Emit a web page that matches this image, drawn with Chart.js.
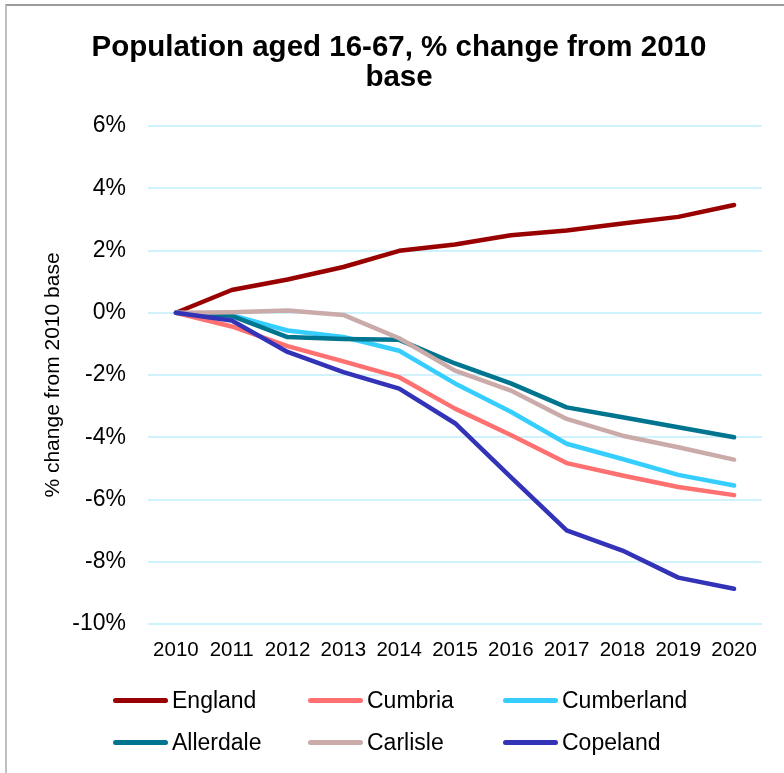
<!DOCTYPE html>
<html>
<head>
<meta charset="utf-8">
<script src="https://cdn.jsdelivr.net/npm/chart.js@4/dist/chart.umd.min.js"></script>
<style>
  html, body { margin: 0; padding: 0; background: #fff; }
  #wrap { position: relative; width: 784px; height: 773px; overflow: hidden; }
  #frame {
    position: absolute; left: 5px; top: 4px; width: 900px; height: 900px;
    border-left: 2px solid #c0c0c0; border-top: 2px solid #9a9a9a;
  }
  #chart { position: absolute; left: 0; top: 0; }
  #legend {
    position: absolute; left: 113px; top: 679px;
    display: grid; grid-template-columns: 195px 195px 195px; grid-auto-rows: 42px;
    font-family: "Liberation Sans", Arial, sans-serif; font-size: 23px; color: #000;
  }
  .item { display: flex; align-items: center; height: 42px; }
  .swatch { width: 55px; height: 5px; border-radius: 3px; margin-right: 4px; }
</style>
</head>
<body>
<div id="wrap">
  <div id="frame"></div>
  <canvas id="chart" width="784" height="773"></canvas>
  <div id="legend"></div>
</div>
<script>
// Working-age population (16-67), % change against 2010
const years = ['2010', '2011', '2012', '2013', '2014', '2015', '2016', '2017', '2018', '2019', '2020'];

const england    = [0, 0.73, 1.07, 1.47, 1.99, 2.19, 2.49, 2.64, 2.87, 3.08, 3.46];
const cumbria    = [0, -0.44, -1.07, -1.56, -2.07, -3.08, -3.93, -4.83, -5.23, -5.60, -5.86];
const cumberland = [0, -0.08, -0.57, -0.78, -1.22, -2.27, -3.18, -4.21, -4.70, -5.21, -5.55];
const allerdale  = [0, -0.10, -0.78, -0.84, -0.87, -1.63, -2.27, -3.04, -3.36, -3.68, -4.00];
const carlisle   = [0, 0.02, 0.07, -0.07, -0.82, -1.86, -2.50, -3.41, -3.95, -4.32, -4.72];
const copeland   = [0, -0.25, -1.26, -1.91, -2.44, -3.55, -5.28, -6.99, -7.64, -8.51, -8.87];

const seriesNames = ['England', 'Cumbria', 'Cumberland', 'Allerdale', 'Carlisle', 'Copeland'];
const seriesData = [england, cumbria, cumberland, allerdale, carlisle, copeland];
const seriesColors = ['#990000', '#FF7171', '#36CEFF', '#00758F', '#CBAAAA', '#3333B8'];

const FONT = '"Liberation Sans", Arial, sans-serif';

// later series sit on top of earlier ones
const datasets = seriesNames.map((name, i) => ({
    label: name,
    data: seriesData[i],
    borderColor: seriesColors[i],
    backgroundColor: seriesColors[i],
    borderWidth: 4.5,
    borderCapStyle: 'round',
    borderJoinStyle: 'round',
    pointRadius: 0,
    tension: 0,
    order: seriesNames.length - i
}));

const ctx = document.getElementById('chart').getContext('2d');
const chart = new Chart(ctx, {
    type: 'line',
    data: { labels: years, datasets: datasets },
    options: {
        responsive: false,
        animation: false,
        layout: { padding: { left: 36, right: 22, top: 0, bottom: 99 } },
        plugins: {
            legend: { display: false },
            tooltip: { enabled: false },
            title: {
                display: true,
                text: ['Population aged 16-67, % change from 2010', 'base'],
                color: '#000',
                font: { family: FONT, size: 29.5, weight: 'bold', lineHeight: '30px' },
                padding: { top: 33, bottom: 33 }
            }
        },
        scales: {
            x: {
                offset: true,
                grid: { display: false, drawTicks: false },
                border: { display: false },
                ticks: { color: '#000', padding: 14, maxRotation: 0, font: { family: FONT, size: 20.5 } },
                afterFit: function(scale) { scale.height = 50; }
            },
            y: {
                min: -10,
                max: 6,
                grid: { color: '#D0F2FD', lineWidth: 2, drawTicks: false },
                border: { display: false },
                ticks: {
                    stepSize: 2,
                    color: '#000',
                    padding: 22,
                    font: { family: FONT, size: 23 },
                    callback: function(value) { return value + '%'; }
                },
                title: {
                    display: true,
                    text: '% change from 2010 base',
                    color: '#000',
                    font: { family: FONT, size: 21 },
                    padding: { top: 5, bottom: 0 }
                },
                afterFit: function(scale) { scale.width = 112; }
            }
        }
    }
});

// legend laid out in three fixed columns
const legendEl = document.getElementById('legend');
chart.data.datasets.forEach(ds => {
    const item = document.createElement('div');
    item.className = 'item';
    const swatch = document.createElement('span');
    swatch.className = 'swatch';
    swatch.style.background = ds.borderColor;
    const label = document.createElement('span');
    label.textContent = ds.label;
    item.appendChild(swatch);
    item.appendChild(label);
    legendEl.appendChild(item);
});
</script>
</body>
</html>
